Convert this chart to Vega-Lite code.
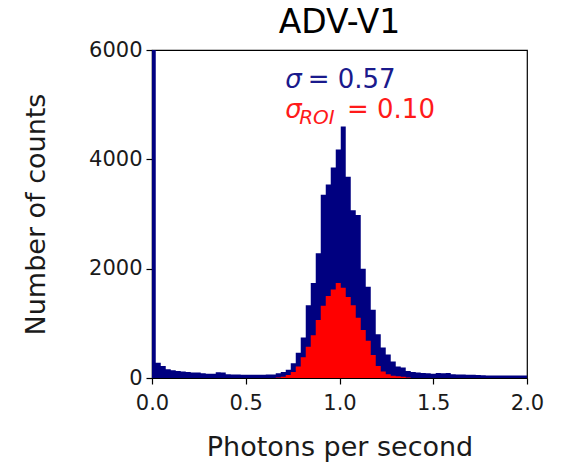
{
  "$schema": "https://vega.github.io/schema/vega-lite/v6.json",
  "autosize": "none",
  "width": 375,
  "height": 328,
  "padding": {"left": 152, "top": 50, "right": 38, "bottom": 87},
  "background": "white",
  "config": {
    "font": "DejaVu Sans",
    "view": {"stroke": "black", "strokeWidth": 1.2},
    "axis": {"grid": false, "domain": false, "tickColor": "black", "tickSize": 6, "tickWidth": 1.2, "labelColor": "#1a1a1a", "labelFontSize": 21, "titleFontSize": 27, "titleFontWeight": "normal", "titleColor": "#1a1a1a", "labelPadding": 4, "labelFlush": false},
    "title": {"fontSize": 33, "fontWeight": "normal", "color": "black", "offset": -1}
  },
  "title": "ADV-V1",
  "datasets": {
    "hist": [
      {"x0": 0.0, "x1": 0.02, "all": 9000, "roi": 0},
      {"x0": 0.02, "x1": 0.0467, "all": 280, "roi": 0},
      {"x0": 0.0467, "x1": 0.0733, "all": 220, "roi": 0},
      {"x0": 0.0733, "x1": 0.1, "all": 160, "roi": 0},
      {"x0": 0.1, "x1": 0.1267, "all": 140, "roi": 0},
      {"x0": 0.1267, "x1": 0.1533, "all": 130, "roi": 0},
      {"x0": 0.1533, "x1": 0.18, "all": 120, "roi": 0},
      {"x0": 0.18, "x1": 0.2067, "all": 110, "roi": 0},
      {"x0": 0.2067, "x1": 0.2333, "all": 100, "roi": 0},
      {"x0": 0.2333, "x1": 0.26, "all": 100, "roi": 0},
      {"x0": 0.26, "x1": 0.2867, "all": 85, "roi": 0},
      {"x0": 0.2867, "x1": 0.3133, "all": 80, "roi": 0},
      {"x0": 0.3133, "x1": 0.34, "all": 80, "roi": 0},
      {"x0": 0.34, "x1": 0.3667, "all": 105, "roi": 0},
      {"x0": 0.3667, "x1": 0.3933, "all": 100, "roi": 0},
      {"x0": 0.3933, "x1": 0.42, "all": 70, "roi": 0},
      {"x0": 0.42, "x1": 0.4467, "all": 65, "roi": 0},
      {"x0": 0.4467, "x1": 0.4733, "all": 62, "roi": 0},
      {"x0": 0.4733, "x1": 0.5, "all": 60, "roi": 0},
      {"x0": 0.5, "x1": 0.5267, "all": 60, "roi": 0},
      {"x0": 0.5267, "x1": 0.5533, "all": 60, "roi": 0},
      {"x0": 0.5533, "x1": 0.58, "all": 60, "roi": 0},
      {"x0": 0.58, "x1": 0.6067, "all": 60, "roi": 0},
      {"x0": 0.6067, "x1": 0.6333, "all": 62, "roi": 0},
      {"x0": 0.6333, "x1": 0.66, "all": 65, "roi": 0},
      {"x0": 0.66, "x1": 0.6867, "all": 85, "roi": 10},
      {"x0": 0.6867, "x1": 0.7133, "all": 110, "roi": 25},
      {"x0": 0.7133, "x1": 0.74, "all": 150, "roi": 55},
      {"x0": 0.74, "x1": 0.7667, "all": 270, "roi": 110},
      {"x0": 0.7667, "x1": 0.7933, "all": 460, "roi": 210},
      {"x0": 0.7933, "x1": 0.82, "all": 740, "roi": 380},
      {"x0": 0.82, "x1": 0.8467, "all": 1330, "roi": 570},
      {"x0": 0.8467, "x1": 0.8733, "all": 1740, "roi": 780},
      {"x0": 0.8733, "x1": 0.9, "all": 2280, "roi": 1060},
      {"x0": 0.9, "x1": 0.9267, "all": 3350, "roi": 1320},
      {"x0": 0.9267, "x1": 0.9533, "all": 3540, "roi": 1500},
      {"x0": 0.9533, "x1": 0.98, "all": 3850, "roi": 1620},
      {"x0": 0.98, "x1": 1.0067, "all": 4180, "roi": 1740},
      {"x0": 1.0067, "x1": 1.0333, "all": 4600, "roi": 1650},
      {"x0": 1.0333, "x1": 1.06, "all": 3680, "roi": 1480},
      {"x0": 1.06, "x1": 1.0867, "all": 3070, "roi": 1330},
      {"x0": 1.0867, "x1": 1.1133, "all": 2980, "roi": 1100},
      {"x0": 1.1133, "x1": 1.14, "all": 2000, "roi": 880},
      {"x0": 1.14, "x1": 1.1667, "all": 1670, "roi": 680},
      {"x0": 1.1667, "x1": 1.1933, "all": 1250, "roi": 420},
      {"x0": 1.1933, "x1": 1.22, "all": 800, "roi": 220},
      {"x0": 1.22, "x1": 1.2467, "all": 560, "roi": 120},
      {"x0": 1.2467, "x1": 1.2733, "all": 430, "roi": 70},
      {"x0": 1.2733, "x1": 1.3, "all": 300, "roi": 40},
      {"x0": 1.3, "x1": 1.3267, "all": 210, "roi": 30},
      {"x0": 1.3267, "x1": 1.3533, "all": 190, "roi": 25},
      {"x0": 1.3533, "x1": 1.38, "all": 130, "roi": 10},
      {"x0": 1.38, "x1": 1.4067, "all": 110, "roi": 0},
      {"x0": 1.4067, "x1": 1.4333, "all": 100, "roi": 0},
      {"x0": 1.4333, "x1": 1.46, "all": 90, "roi": 0},
      {"x0": 1.46, "x1": 1.4867, "all": 85, "roi": 0},
      {"x0": 1.4867, "x1": 1.5133, "all": 80, "roi": 0},
      {"x0": 1.5133, "x1": 1.54, "all": 90, "roi": 0},
      {"x0": 1.54, "x1": 1.5667, "all": 85, "roi": 0},
      {"x0": 1.5667, "x1": 1.5933, "all": 90, "roi": 0},
      {"x0": 1.5933, "x1": 1.62, "all": 70, "roi": 0},
      {"x0": 1.62, "x1": 1.6467, "all": 65, "roi": 0},
      {"x0": 1.6467, "x1": 1.6733, "all": 65, "roi": 0},
      {"x0": 1.6733, "x1": 1.7, "all": 60, "roi": 0},
      {"x0": 1.7, "x1": 1.7267, "all": 60, "roi": 0},
      {"x0": 1.7267, "x1": 1.7533, "all": 55, "roi": 0},
      {"x0": 1.7533, "x1": 1.78, "all": 50, "roi": 0},
      {"x0": 1.78, "x1": 1.8067, "all": 45, "roi": 0},
      {"x0": 1.8067, "x1": 1.8333, "all": 45, "roi": 0},
      {"x0": 1.8333, "x1": 1.86, "all": 45, "roi": 0},
      {"x0": 1.86, "x1": 1.8867, "all": 45, "roi": 0},
      {"x0": 1.8867, "x1": 1.9133, "all": 45, "roi": 0},
      {"x0": 1.9133, "x1": 1.94, "all": 45, "roi": 0},
      {"x0": 1.94, "x1": 1.9667, "all": 45, "roi": 0},
      {"x0": 1.9667, "x1": 1.9933, "all": 45, "roi": 0},
      {"x0": 1.9933, "x1": 2.02, "all": 45, "roi": 0},
      {"x0": 2.02, "x1": 2.0467, "all": 45, "roi": 0}
    ],
    "one": [{}]
  },
  "layer": [
    {
      "data": {"name": "hist"},
      "mark": {"type": "area", "interpolate": "step-after", "color": "#000080", "opacity": 1, "clip": true},
      "encoding": {
        "x": {"field": "x0", "type": "quantitative", "scale": {"domain": [0, 2], "nice": false, "zero": false},
              "axis": {"values": [0, 0.5, 1, 1.5, 2], "format": ".1f", "title": "Photons per second", "titlePadding": 21, "labelPadding": 8}},
        "y": {"field": "all", "type": "quantitative", "scale": {"domain": [0, 6000], "nice": false},
              "axis": {"values": [0, 2000, 4000, 6000], "format": "d", "title": "Number of counts", "titlePadding": 38}},
        "y2": {"datum": 0}
      }
    },
    {
      "data": {"name": "hist"},
      "mark": {"type": "area", "interpolate": "step-after", "color": "#ff0000", "opacity": 1, "clip": true},
      "encoding": {
        "x": {"field": "x0", "type": "quantitative"},
        "y": {"field": "roi", "type": "quantitative"},
        "y2": {"datum": 0}
      }
    },
    {
      "data": {"name": "one"},
      "mark": {"type": "text", "text": "σ", "fontStyle": "italic", "fontSize": 26, "color": "#1a1a8c", "align": "left", "baseline": "alphabetic"},
      "encoding": {"x": {"datum": 0.71}, "y": {"datum": 5305}}
    },
    {
      "data": {"name": "one"},
      "mark": {"type": "text", "text": "= 0.57", "fontSize": 26, "color": "#1a1a8c", "align": "left", "baseline": "alphabetic"},
      "encoding": {"x": {"datum": 0.83}, "y": {"datum": 5305}}
    },
    {
      "data": {"name": "one"},
      "mark": {"type": "text", "text": "σ", "fontStyle": "italic", "fontSize": 26, "color": "#ff1a1a", "align": "left", "baseline": "alphabetic"},
      "encoding": {"x": {"datum": 0.71}, "y": {"datum": 4756}}
    },
    {
      "data": {"name": "one"},
      "mark": {"type": "text", "text": "ROI", "fontStyle": "italic", "fontSize": 20, "color": "#ff1a1a", "align": "left", "baseline": "alphabetic"},
      "encoding": {"x": {"datum": 0.785}, "y": {"datum": 4646}}
    },
    {
      "data": {"name": "one"},
      "mark": {"type": "text", "text": "= 0.10", "fontSize": 26, "color": "#ff1a1a", "align": "left", "baseline": "alphabetic"},
      "encoding": {"x": {"datum": 1.04}, "y": {"datum": 4756}}
    }
  ]
}
